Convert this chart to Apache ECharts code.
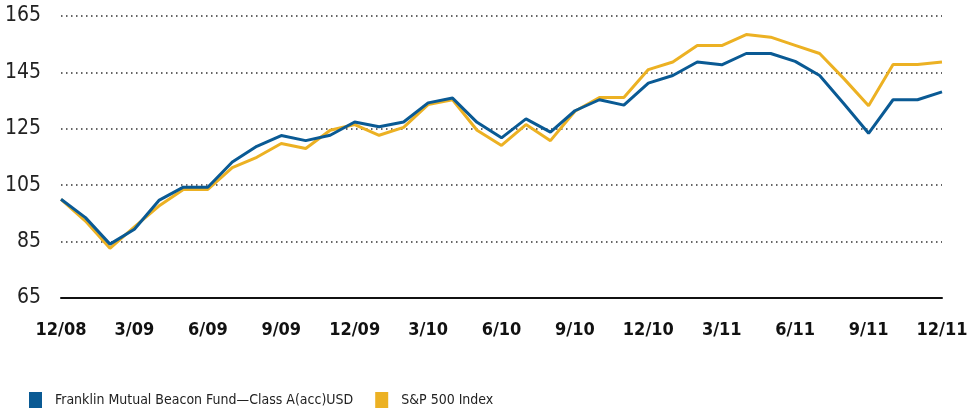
<!DOCTYPE html>
<html>
<head>
<meta charset="utf-8">
<script src="https://cdn.jsdelivr.net/npm/echarts@6/dist/echarts.min.js"></script>
<style>
  html, body { margin: 0; padding: 0; background: #fff; }
  #chart { width: 976px; height: 413px; }
</style>
</head>
<body>
<div id="chart"></div>
<script>
var months = [
  '12/08','1/09','2/09','3/09','4/09','5/09','6/09','7/09','8/09','9/09','10/09','11/09',
  '12/09','1/10','2/10','3/10','4/10','5/10','6/10','7/10','8/10','9/10','10/10','11/10',
  '12/10','1/11','2/11','3/11','4/11','5/11','6/11','7/11','8/11','9/11','10/11','11/11','12/11'
];
var yTicks = [65, 85, 105, 125, 145, 165];
var fundName = 'Franklin Mutual Beacon Fund\u2014Class A(acc)USD';
var indexName = 'S&P 500 Index';
var fund = [
  100, 93.5, 84.1, 89.4, 99.6, 104.3, 104.3, 113.2, 118.8, 122.6, 120.8, 122.7,
  127.4, 125.7, 127.4, 134.2, 135.9, 127.3, 121.8, 128.5, 123.8, 131.4, 135.3, 133.4,
  141.2, 143.9, 148.7, 147.7, 151.7, 151.7, 148.9, 143.9, 133.8, 123.4, 135.3, 135.3, 138.1
];
var sp500 = [
  100, 92.3, 82.6, 90.2, 97.6, 103.5, 103.5, 111.2, 114.9, 119.8, 118.0, 124.5,
  126.5, 122.7, 125.5, 133.6, 135.3, 124.5, 119.1, 126.5, 120.8, 131.2, 136.1, 136.1,
  146.0, 148.7, 154.5, 154.5, 158.4, 157.5, 154.6, 151.7, 142.7, 133.2, 147.8, 147.8, 148.7
];

var font = '"Liberation Sans Narrow", "DejaVu Sans Condensed", "Roboto", sans-serif';
var chart = echarts.init(document.getElementById('chart'));
chart.setOption({
  animation: false,
  color: ['#0a5a94', '#ecb123'],
  grid: {
    left: 61,
    right: 34,
    top: 16,
    bottom: 115
  },
  legend: {
    left: 29,
    top: 392,
    padding: 0,
    icon: 'rect',
    itemWidth: 13,
    itemHeight: 16,
    itemGap: 22,
    data: [fundName, indexName],
    textStyle: {
      fontFamily: font,
      fontSize: 14,
      color: '#222',
      padding: [0, 0, 0, 8]
    }
  },
  xAxis: {
    type: 'category',
    boundaryGap: false,
    data: months,
    axisLine: { lineStyle: { color: '#111', width: 2 } },
    axisTick: { show: false },
    axisLabel: {
      interval: 2,
      margin: 23,
      fontFamily: font,
      fontWeight: 'bold',
      fontSize: 18,
      color: '#111'
    },
    splitLine: { show: false }
  },
  yAxis: {
    type: 'value',
    min: 65,
    max: 165,
    axisLine: { show: false },
    axisTick: { show: false, customValues: yTicks },
    axisLabel: {
      customValues: yTicks,
      margin: 20,
      fontFamily: font,
      fontSize: 21,
      color: '#222',
      padding: [4, 0, 0, 0]
    },
    splitLine: {
      show: true,
      customValues: yTicks,
      lineStyle: { color: '#333', width: 1.5, type: [1.5, 3.5] }
    }
  },
  series: [{
    name: fundName,
    type: 'line',
    data: fund,
    symbol: 'none',
    lineStyle: { width: 3 },
    z: 3
  }, {
    name: indexName,
    type: 'line',
    data: sp500,
    symbol: 'none',
    lineStyle: { width: 3 },
    z: 2
  }]
});
</script>
</body>
</html>
